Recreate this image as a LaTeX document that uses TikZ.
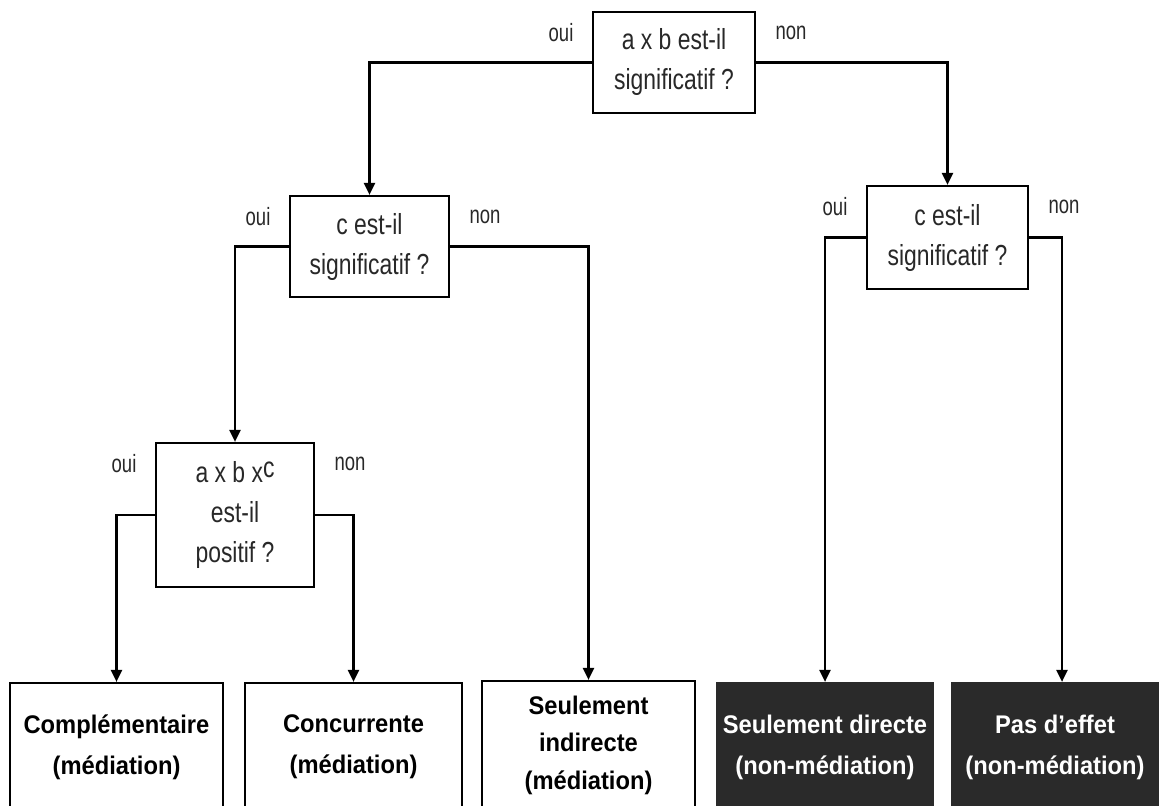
\documentclass[tikz,border=0pt]{standalone}
\usepackage{fontspec}
\setmainfont{Liberation Sans}
\newfontfamily\narrowfont[FakeStretch=0.79]{Liberation Sans}
\newfontfamily\labelfont[FakeStretch=0.74]{Liberation Sans}
\newfontfamily\heavyfont[FakeStretch=0.93]{Liberation Sans}
\usetikzlibrary{arrows.meta,positioning}
\definecolor{BoxGray}{RGB}{42,42,42}
\definecolor{TextGray}{RGB}{40,40,40}

\begin{document}
\begin{tikzpicture}[x=1pt,y=-1pt,
  question/.style={draw,line width=2.2pt,align=center,inner sep=0pt,text=TextGray,
    font=\narrowfont\fontsize{29}{40}\selectfont},
  outcome/.style={draw,line width=2.2pt,align=center,inner sep=0pt,minimum height=128pt,
    font=\heavyfont\bfseries\fontsize{25.5}{41}\selectfont},
  dark/.style={outcome,fill=BoxGray,draw=BoxGray,text=white},
  answer/.style={text=TextGray,font=\labelfont\fontsize{25}{28}\selectfont},
  arr/.style={line width=2.2pt,-{Triangle[length=12pt,width=11pt]}}]
  \fill[white] (0,0) rectangle (1160,806);
  \useasboundingbox (0,0) rectangle (1160,806);
  \clip (0,0) rectangle (1160,806);
  % questions
  \node[question,minimum width=162pt,minimum height=101pt] (q1) at (674,62.5) {a x b est-il\\significatif ?};
  \node[question,minimum width=159pt,minimum height=101pt] (q2) at (369.5,246.5) {c est-il\\significatif ?};
  \node[question,minimum width=161pt,minimum height=103pt] (q3) at (947.5,237.5) {c est-il\\significatif ?};
  \node[question,minimum width=158pt,minimum height=144pt] (q4) at (235,515) {a x b x\raisebox{5pt}{c}\\est-il\\positif ?};
  % outcomes
  \node[outcome,minimum width=213pt] (r1) at (116.5,747) {Complémentaire\\(médiation)};
  \node[outcome,minimum width=217pt] (r2) at (353.5,747) {Concurrente\\(médiation)};
  \node[outcome,minimum width=213pt,font=\heavyfont\bfseries\fontsize{25.5}{37.5}\selectfont] (r3) at (588.5,745) {Seulement\\indirecte\\(médiation)};
  \node[dark,minimum width=216pt] (r4) at (825,747) {Seulement directe\\(non-médiation)};
  \node[dark,minimum width=206pt] (r5) at (1055,747) {Pas d’effet\\(non-médiation)};
  % branches
  \draw[arr] (q1.west) -| (q2.north);
  \draw[arr] (q1.east) -| (q3.north);
  \draw[arr] (q2.west) -| (q4.north);
  \draw[arr] (q2.east) -| (r3.north);
  \draw[arr] (q3.west) -| (r4.north);
  \draw[arr] (q3.east) -| ([xshift=7pt]r5.north);
  \draw[arr] (q4.west) -| (r1.north);
  \draw[arr] (q4.east) -| (r2.north);
  % oui / non
  \foreach \q in {q1,q2,q3,q4}{
    \node[answer,anchor=east] at ([xshift=-15pt,yshift=-22pt]\q.north west) {oui};
    \node[answer,anchor=west] at ([xshift=16pt,yshift=-22pt]\q.north east) {non};
  }
\end{tikzpicture}
\end{document}
